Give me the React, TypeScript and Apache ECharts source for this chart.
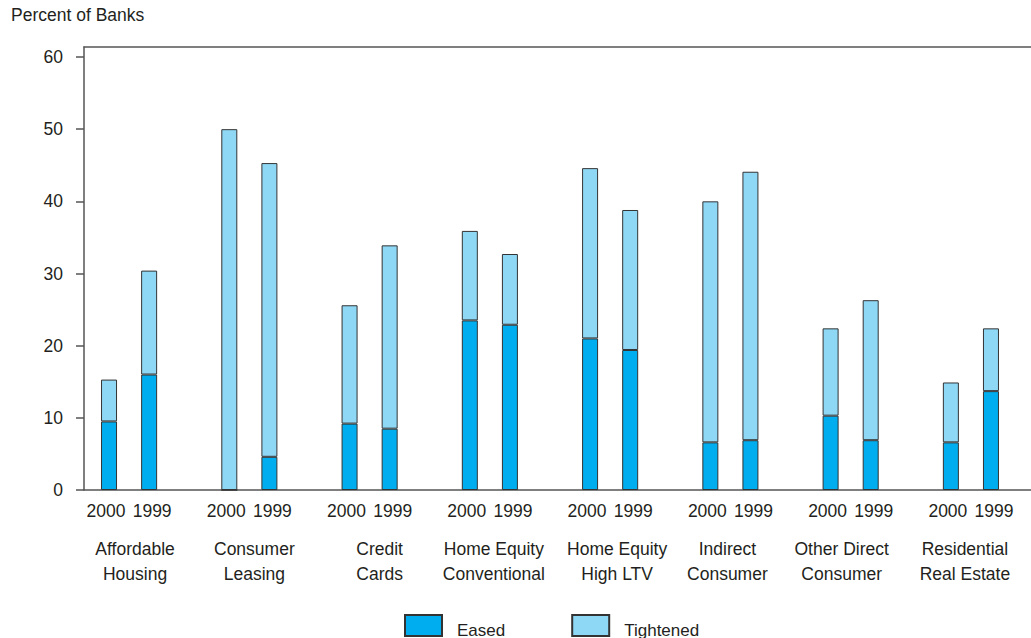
import React, { useEffect, useRef } from "react";
import * as echarts from "echarts";

const groups = [
  "Affordable\nHousing",
  "Consumer\nLeasing",
  "Credit\nCards",
  "Home Equity\nConventional",
  "Home Equity\nHigh LTV",
  "Indirect\nConsumer",
  "Other Direct\nConsumer",
  "Residential\nReal Estate",
];
const years = ["2000", "1999"];
const eased2000 = [9.5, 0, 9.2, 23.5, 21.0, 6.6, 10.3, 6.6];
const eased1999 = [16.0, 4.6, 8.5, 22.9, 19.4, 6.9, 6.9, 13.7];
const tightened2000 = [5.8, 50.0, 16.4, 12.4, 23.6, 33.4, 12.1, 8.3];
const tightened1999 = [14.4, 40.7, 25.4, 9.8, 19.4, 37.2, 19.4, 8.7];
const yTicks = [0, 10, 20, 30, 40, 50, 60];

// layout only: horizontal nudge (px) of each group caption from the pair's centre
const captionNudge = [6, 5, 10, 4, 7, -3, -9, -6];

const FONT = "'Liberation Sans', Arial, Helvetica, sans-serif";
const TEXT = "#231f20";
const AXIS = "#555555";
const EASED = "#00aeef";
const TIGHT = "#8fd8f5";
const FS = 17.5;

export default function App() {
  const ref = useRef<HTMLDivElement>(null);
  useEffect(() => {
    document.body.style.margin = "0";
    if (!ref.current) return;
    const chart = echarts.init(ref.current, undefined, { renderer: "svg" });

    const cats: string[] = [];
    const easedData: (number | string)[] = [];
    const tightData: (number | string)[] = [];
    groups.forEach((g, i) => {
      years.forEach((y) => {
        cats.push(`${i}|${y}`);
        easedData.push(y === "2000" ? eased2000[i] : eased1999[i]);
        tightData.push(y === "2000" ? tightened2000[i] : tightened1999[i]);
      });
      if (i < groups.length - 1) {
        cats.push(`${i}|gap`);
        easedData.push("-");
        tightData.push("-");
      }
    });

    const itemBorder = { borderColor: "#333333", borderWidth: 1 };
    const yearText = { fontSize: FS, fontFamily: FONT, color: TEXT };

    chart.setOption({
      animation: false,
      textStyle: { fontFamily: FONT, color: TEXT },
      title: {
        text: "Percent of Banks",
        left: 11,
        top: 6,
        padding: 0,
        textStyle: { fontFamily: FONT, fontSize: FS, fontWeight: "normal", color: TEXT },
      },
      legend: {
        left: 404,
        top: 614,
        padding: 0,
        icon: "rect",
        itemWidth: 37,
        itemHeight: 21,
        itemGap: 66,
        data: ["Eased", "Tightened"],
        formatter: "{t|{name}}",
        textStyle: {
          fontFamily: FONT,
          fontSize: 17,
          color: TEXT,
          rich: {
            t: { fontFamily: FONT, fontSize: 17, color: TEXT, padding: [9, 0, 0, 10] },
          },
        },
      },
      grid: [
        { left: 89, top: 57, width: 922, bottom: 148 },
        { left: 84, top: 47, right: 0, bottom: 148 },
      ],
      xAxis: [
        {
          type: "category",
          gridIndex: 0,
          data: cats,
          axisLine: { show: false },
          axisTick: { show: false },
          axisLabel: {
            interval: 0,
            margin: 12,
            fontSize: FS,
            fontFamily: FONT,
            color: TEXT,
            formatter: (v: string) => {
              const y = v.split("|")[1];
              if (y === "gap") return "";
              return y === "2000" ? `{a|${y}}` : `{b|${y}}`;
            },
            rich: {
              a: { ...yearText, padding: [0, 6, 0, 0] },
              b: { ...yearText, padding: [0, 0, 0, 6] },
            },
          },
        },
        {
          type: "value",
          gridIndex: 1,
          position: "bottom",
          axisLine: { show: true, onZero: false, lineStyle: { color: AXIS, width: 1.5 } },
          axisTick: { show: false },
          axisLabel: { show: false },
          splitLine: { show: false },
        },
        {
          type: "value",
          gridIndex: 1,
          position: "top",
          axisLine: { show: true, onZero: false, lineStyle: { color: AXIS, width: 1.5 } },
          axisTick: { show: false },
          axisLabel: { show: false },
          splitLine: { show: false },
        },
      ],
      yAxis: [
        {
          type: "value",
          gridIndex: 0,
          min: yTicks[0],
          max: yTicks[yTicks.length - 1],
          interval: 10,
          offset: 5,
          axisLine: { show: false },
          axisTick: { show: true, length: 8, lineStyle: { color: AXIS, width: 1.5 } },
          axisLabel: { margin: 21, fontSize: FS, fontFamily: FONT, color: TEXT },
          splitLine: { show: false },
        },
        {
          type: "value",
          gridIndex: 1,
          axisLine: { show: true, onZero: false, lineStyle: { color: AXIS, width: 1.5 } },
          axisTick: { show: false },
          axisLabel: { show: false },
          splitLine: { show: false },
        },
      ],
      series: [
        {
          name: "Eased",
          type: "bar",
          stack: "s",
          xAxisIndex: 0,
          yAxisIndex: 0,
          barWidth: 16,
          data: easedData,
          itemStyle: { color: EASED, ...itemBorder },
        },
        {
          name: "Tightened",
          type: "bar",
          stack: "s",
          xAxisIndex: 0,
          yAxisIndex: 0,
          barWidth: 16,
          data: tightData,
          itemStyle: { color: TIGHT, ...itemBorder },
        },
      ],
    });

    const labels = groups.map((g, i) => {
      const x1 = chart.convertToPixel({ xAxisIndex: 0 }, `${i}|2000`) as number;
      const x2 = chart.convertToPixel({ xAxisIndex: 0 }, `${i}|1999`) as number;
      return {
        type: "text",
        x: (x1 + x2) / 2 + captionNudge[i],
        y: 536,
        style: {
          text: g,
          fontSize: FS,
          fontFamily: FONT,
          fill: TEXT,
          lineHeight: 25,
          align: "center",
          verticalAlign: "top",
        },
      };
    });
    chart.setOption({ graphic: labels });

    return () => chart.dispose();
  }, []);
  return <div ref={ref} style={{ width: 1031, height: 638 }} />;
}
